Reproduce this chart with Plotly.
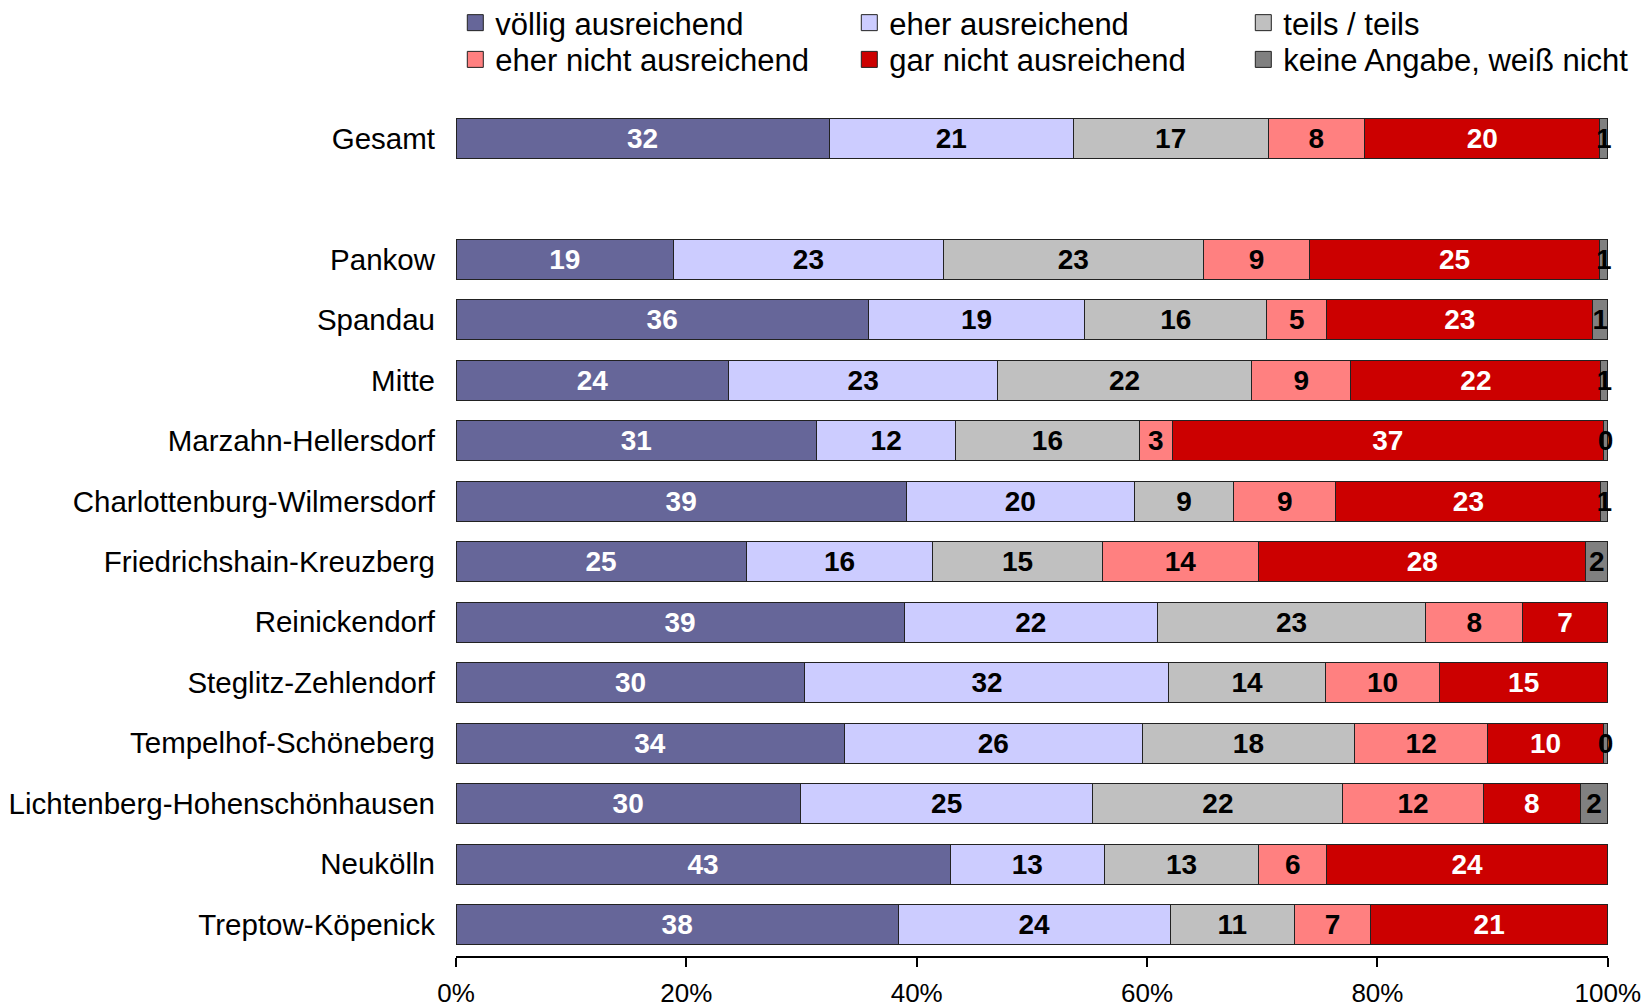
import plotly.graph_objects as go

categories = ["Gesamt", "Pankow", "Spandau", "Mitte", "Marzahn-Hellersdorf",
              "Charlottenburg-Wilmersdorf", "Friedrichshain-Kreuzberg", "Reinickendorf",
              "Steglitz-Zehlendorf", "Tempelhof-Schöneberg", "Lichtenberg-Hohenschönhausen",
              "Neukölln", "Treptow-Köpenick"]
# row positions (a gap after "Gesamt")
positions = [0, 2, 3, 4, 5, 6, 7, 8, 9, 10, 11, 12, 13]

voellig = [32.4, 18.9, 35.8, 23.7, 31.3, 39.1, 25.2, 38.9, 30.3, 33.7, 29.9, 42.9, 38.4]
eher_aus = [21.2, 23.4, 18.8, 23.3, 12.1, 19.8, 16.2, 22.0, 31.6, 25.9, 25.4, 13.4, 23.6]
teils = [16.9, 22.6, 15.8, 22.1, 15.9, 8.6, 14.7, 23.3, 13.6, 18.4, 21.7, 13.4, 10.8]
eher_nicht = [8.4, 9.2, 5.2, 8.6, 2.9, 8.9, 13.6, 8.4, 9.9, 11.6, 12.2, 5.9, 6.6]
gar_nicht = [20.4, 25.2, 23.1, 21.7, 37.4, 23.0, 28.4, 7.4, 14.6, 10.0, 8.4, 24.4, 20.6]
keine = [0.7, 0.7, 1.3, 0.6, 0.4, 0.6, 1.9, 0.0, 0.0, 0.4, 2.4, 0.0, 0.0]

series_names = ["völlig ausreichend", "eher ausreichend", "teils / teils",
                "eher nicht ausreichend", "gar nicht ausreichend", "keine Angabe, weiß nicht"]
series_values = [voellig, eher_aus, teils, eher_nicht, gar_nicht, keine]
colors = ["#666699", "#CCCCFF", "#C0C0C0", "#FF8080", "#CC0000", "#808080"]
text_colors = ["white", "black", "black", "black", "white", "black"]
legend_ids = ["legend", "legend", "legend", "legend2", "legend2", "legend2"]

tick_vals = [0, 20, 40, 60, 80, 100]
tick_text = ["0%", "20%", "40%", "60%", "80%", "100%"]

FONT = "Liberation Sans, Arial, sans-serif"

fig = go.Figure()
for name, vals, col, tcol, lid in zip(series_names, series_values, colors, text_colors, legend_ids):
    labels = [f"{v:.0f}" if v > 0 else "" for v in vals]
    fig.add_trace(go.Bar(
        y=positions, x=vals, name=name, orientation="h", showlegend=False,
        marker=dict(color=col, line=dict(color="#222222", width=1)),
        text=labels, textposition="inside", insidetextanchor="middle",
        constraintext="none", cliponaxis=False,
        textfont=dict(family=FONT, size=28, color=tcol, weight="bold"),
        width=0.66, hoverinfo="x+y+name",
    ))
    # legend entry with a larger square swatch
    fig.add_trace(go.Scatter(
        x=[None], y=[None], mode="markers", name=name, legend=lid,
        marker=dict(symbol="square", size=16, color=col, line=dict(color="#222222", width=1)),
        hoverinfo="skip",
    ))

legend_common = dict(
    orientation="h", x=-0.0006, xanchor="left", yanchor="middle",
    font=dict(family=FONT, size=31, color="black"),
    entrywidth=349, entrywidthmode="pixels",
    traceorder="normal", itemclick=False, bgcolor="rgba(0,0,0,0)",
)

fig.update_layout(
    barmode="stack",
    width=1650, height=1006,
    margin=dict(l=448, r=50, t=94, b=57.5, autoexpand=False),
    paper_bgcolor="white", plot_bgcolor="white",
    font=dict(family=FONT, color="black"),
    legend=dict(y=1.0925, **legend_common),
    legend2=dict(y=1.0495, **legend_common),
    showlegend=True,
)
fig.update_xaxes(
    range=[0, 100.02], tickvals=tick_vals, ticktext=tick_text,
    showgrid=False, zeroline=False,
    showline=True, linecolor="black", linewidth=2,
    ticks="outside", ticklen=9, tickwidth=2, tickcolor="black",
    tickfont=dict(family=FONT, size=26, color="black"),
    ticklabelstandoff=4,
)
fig.update_yaxes(
    range=[13.52, -0.6], tickvals=positions, ticktext=categories,
    showgrid=False, zeroline=False, showline=False, ticks="",
    tickfont=dict(family=FONT, size=29.5, color="black"),
    ticklabelstandoff=20,
)

fig.write_html("out.html")
